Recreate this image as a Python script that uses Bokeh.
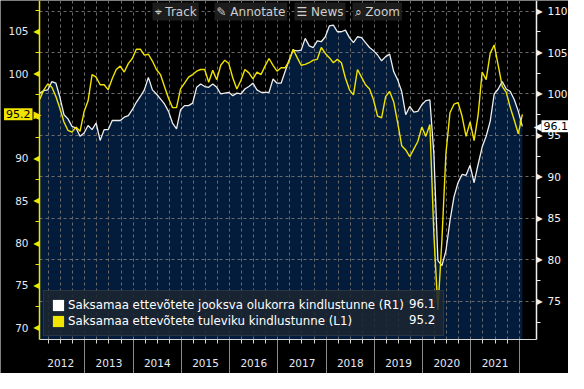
from bokeh.plotting import figure
from bokeh.models import (Range1d, LinearAxis, FixedTicker, Grid, Label, LabelSet,
                          ColumnDataSource, Legend, LegendItem)
from bokeh.core.properties import value
from bokeh.embed import file_html
from bokeh.resources import INLINE

# ---------------- data (monthly, Jan 2012 .. Jan 2022) ----------------
start_year = 2012
years = [2012, 2013, 2014, 2015, 2016, 2017, 2018, 2019, 2020, 2021]

# Saksamaa ettevotete jooksva olukorra kindlustunne (R1, white, right axis)
current_situation = [
    100.1, 100.4, 100.5, 101.5, 101.3, 99.6, 97.5, 97.0, 96.1, 95.9, 94.9, 95.3,
    96.2, 95.7, 96.5, 94.4, 95.7, 95.7, 96.8, 96.8, 96.8, 97.2, 97.4, 98.1,
    99.0, 99.7, 100.5, 102.0, 100.5, 100.0, 99.4, 98.8, 97.9, 96.5, 95.8, 98.1,
    98.6, 98.6, 98.9, 100.8, 101.2, 100.9, 100.8, 101.2, 100.8, 100.0, 100.1, 100.2,
    99.8, 100.1, 100.0, 100.6, 100.9, 101.3, 100.5, 100.2, 100.2, 100.2, 101.8, 101.3,
    101.3, 102.7, 104.1, 105.3, 105.2, 105.3, 106.7, 105.8, 105.6, 106.4, 106.3, 106.9,
    108.2, 108.3, 107.5, 107.5, 107.7, 106.8, 106.2, 106.9, 106.8, 106.2, 105.6, 105.2,
    104.7, 104.0, 104.5, 104.8, 102.7, 101.7, 100.3, 97.5, 98.5, 97.8, 97.9, 98.7,
    99.2, 99.3, 92.8, 79.9, 79.3, 81.1, 84.7, 87.6, 89.3, 90.3, 90.2, 91.4,
    89.3, 91.5, 93.6, 94.9, 96.7, 100.0, 100.6, 101.5, 100.6, 100.3, 99.3, 97.9,
    96.1,
]

# Saksamaa ettevotete tuleviku kindlustunne (L1, yellow, left axis)
expectations = [
    97.0, 98.1, 98.8, 98.4, 97.3, 95.9, 94.3, 93.3, 93.1, 93.7, 93.2, 95.5,
    96.8, 99.9, 99.6, 98.7, 98.7, 98.1, 99.4, 100.5, 100.9, 100.2, 101.2, 101.8,
    102.9, 102.9, 102.2, 102.3, 101.5, 100.5, 99.9, 98.5, 97.1, 96.0, 96.0, 98.2,
    98.9, 99.6, 99.9, 100.3, 100.5, 100.5, 99.0, 100.4, 99.3, 101.0, 101.6, 101.2,
    99.5, 98.2, 99.2, 100.5, 100.1, 99.4, 100.2, 99.9, 100.9, 101.8, 101.0, 100.3,
    100.7, 100.7, 101.5, 102.9, 101.9, 101.0, 101.1, 101.3, 101.6, 101.7, 103.1, 102.4,
    101.9, 101.3, 101.7, 101.3, 99.5, 98.1, 97.5, 100.5, 99.6, 98.7, 98.2, 96.9,
    95.0, 94.8, 97.3, 97.9, 96.7, 94.2, 91.5, 91.0, 90.2, 91.1, 92.0, 93.7,
    92.6, 94.0, 81.0, 72.1, 80.4, 90.6, 95.4, 96.4, 96.6, 95.0, 92.6, 94.3,
    92.1, 95.1, 100.2, 99.3, 102.4, 103.4, 101.0, 98.5, 97.8, 96.0, 94.5, 92.9,
    95.2,
]

label_current = "Saksamaa ettevõtete jooksva olukorra kindlustunne (R1)"
label_expect = "Saksamaa ettevõtete tuleviku kindlustunne (L1)"
last_current = current_situation[-1]
last_expect = expectations[-1]

right_ticks = [75, 80, 85, 90, 95, 100, 105, 110]
right_minor = [72.5, 77.5, 82.5, 87.5, 92.5, 97.5, 102.5, 107.5]
left_ticks = [70, 75, 80, 85, 90, 95, 100, 105]
left_minor = [72.5, 77.5, 82.5, 87.5, 92.5, 97.5, 102.5, 107.5]

toolbar_items = ["Track", "Annotate", "News", "Zoom"]
toolbar_icons = ["⌖", "✎", "☰", "⌕"]

# ---------------- geometry / styling ----------------
W, H = 568, 373
IL, IR, IT, IB = 39, 536, 0, 339          # inner plot box in figure pixels
X0, X1 = 2012.06, 2022.36                 # inner x extent (years)
R0, R1 = 70.40, 111.27                    # inner right-axis extent
L0, L1 = 68.61, 108.65                    # inner left-axis extent
sx = (IR - IL) / (X1 - X0)
sr = (IB - IT) / (R1 - R0)
sl = (IB - IT) / (L1 - L0)

NAVY = "#031c3b"
YEL = "#f0e400"
WHT = "#eeeeee"
GRID = "#6b6b6b"
TXT = "#e4e8f4"
FONT = "DejaVu Sans"
TICK_FS = "10.5px"
LEG_FS = "11.8px"

dates = [start_year + (i + 0.8) / 12.0 for i in range(len(current_situation))]
src = ColumnDataSource(dict(x=dates, cur=current_situation, exp=expectations))

p = figure(width=W, height=H, output_backend="svg", toolbar_location=None,
           x_range=Range1d(X0 - IL / sx, X1 + (W - IR) / sx),
           y_range=Range1d(R0 - (H - IB) / sr, R1 + IT / sr),
           x_axis_location=None, y_axis_location=None,
           background_fill_color="black", border_fill_color="black",
           outline_line_color=None,
           min_border_left=0, min_border_right=0, min_border_top=0,
           min_border_bottom=0)
p.extra_y_ranges = {"left": Range1d(L0 - (H - IB) / sl, L1 + IT / sl)}
p.grid.visible = False

# grids (dashed inside the plot box, solid year separators below it)
quarters = [y + q for y in years for q in (0.25, 0.5, 0.75, 1.0)]
p.add_layout(Grid(dimension=0, ticker=FixedTicker(ticks=quarters), cross_bounds=(R0, R1),
                  grid_line_color=GRID, grid_line_dash="3 3", grid_line_width=1))
p.add_layout(Grid(dimension=1, ticker=FixedTicker(ticks=right_ticks), cross_bounds=(X0, X1),
                  grid_line_color=GRID, grid_line_dash="3 3", grid_line_width=1))
p.add_layout(Grid(dimension=0, ticker=FixedTicker(ticks=[y + 1 for y in years]),
                  cross_bounds=(p.y_range.start, R0),
                  grid_line_color="#8a8a8a", grid_line_width=1))

# data
p.varea(x="x", y1=R0, y2="cur", source=src, fill_color=NAVY, level="image")
p.line("x", "cur", source=src, line_color=WHT, line_width=1.3)
p.line("x", "exp", source=src, line_color=YEL, line_width=1.4, y_range_name="left")

# axes (fixed to the plot box edges)
xa = LinearAxis(fixed_location=R0, bounds=(X0, X1),
                ticker=FixedTicker(ticks=[y + 0.5 for y in years],
                                   minor_ticks=[y + q for y in years for q in (0.25, 0.75)]))
xa.major_label_overrides = {y + 0.5: str(y) for y in years}
xa.axis_line_color = "#d8d8d8"
xa.major_tick_out = 4
xa.major_tick_in = 0
xa.major_tick_line_color = "#d8d8d8"
xa.minor_tick_out = 4
xa.minor_tick_in = 0
xa.minor_tick_line_color = "#d8d8d8"
xa.major_label_standoff = 15
xa.major_label_text_color = TXT
xa.major_label_text_font = FONT
xa.major_label_text_font_size = TICK_FS
p.add_layout(xa, "below")

la = LinearAxis(y_range_name="left", fixed_location=X0, bounds=(L0, L1),
                ticker=FixedTicker(ticks=left_ticks, minor_ticks=left_minor))
la.axis_line_color = YEL
la.axis_line_width = 1.5
la.major_tick_line_color = None
la.minor_tick_out = 4
la.minor_tick_in = 0
la.minor_tick_line_color = YEL
la.major_label_standoff = 5
la.major_label_text_color = TXT
la.major_label_text_font = FONT
la.major_label_text_font_size = TICK_FS
p.add_layout(la, "left")

ra = LinearAxis(fixed_location=X1, bounds=(R0, R1),
                ticker=FixedTicker(ticks=right_ticks, minor_ticks=right_minor))
ra.axis_line_color = WHT
ra.axis_line_width = 1.5
ra.major_tick_line_color = None
ra.minor_tick_out = 4
ra.minor_tick_in = 0
ra.minor_tick_line_color = WHT
ra.major_label_standoff = 5
ra.major_label_text_color = "#f4f4f4"
ra.major_label_text_font = FONT
ra.major_label_text_font_size = TICK_FS
p.add_layout(ra, "right")

# triangular tick markers
lt = ColumnDataSource(dict(y=left_ticks, x=[IL] * len(left_ticks), t=["◀"] * len(left_ticks)))
p.add_layout(LabelSet(x="x", y="y", text="t", source=lt, x_units="screen",
                      y_range_name="left", text_align="right", text_baseline="middle",
                      text_color=YEL, text_font=value(FONT), text_font_size="8px"))
rt = ColumnDataSource(dict(y=right_ticks, x=[IR] * len(right_ticks), t=["▶"] * len(right_ticks)))
p.add_layout(LabelSet(x="x", y="y", text="t", source=rt, x_units="screen",
                      text_align="left", text_baseline="middle",
                      text_color=WHT, text_font=value(FONT), text_font_size="8px"))

# last value tags
p.add_layout(Label(x=IL - 7, y=last_expect, x_units="screen", y_range_name="left",
                   text=f"{last_expect:.1f}", text_align="right", text_baseline="middle",
                   text_color="black", text_font=FONT, text_font_size="11px",
                   background_fill_color=YEL, padding=2))
p.add_layout(Label(x=IL - 6, y=last_expect, x_units="screen", y_range_name="left",
                   text="▶", text_align="left", text_baseline="middle",
                   text_color=YEL, text_font=FONT, text_font_size="10px"))
p.add_layout(Label(x=IR + 5, y=last_current, x_units="screen",
                   text=f"{last_current:.1f}", text_align="left", text_baseline="middle",
                   text_color="black", text_font=FONT, text_font_size="11px",
                   background_fill_color="white", padding=2))
p.add_layout(Label(x=IR + 5, y=last_current, x_units="screen",
                   text="◀", text_align="right", text_baseline="middle",
                   text_color="white", text_font=FONT, text_font_size="10px"))

# legend
nan = float("nan")
r1 = p.quad(left=[nan], right=[nan], top=[nan], bottom=[nan], fill_color="white", line_color=None)
r2 = p.quad(left=[nan], right=[nan], top=[nan], bottom=[nan], fill_color=YEL, line_color=None)
r0 = p.quad(left=[nan], right=[nan], top=[nan], bottom=[nan], fill_alpha=0, line_alpha=0)
legend = Legend(items=[LegendItem(label=label_current, renderers=[r1]),
                       LegendItem(label=label_expect, renderers=[r2])],
                location=(43, 37), margin=0, padding=7, spacing=2,
                glyph_width=14, glyph_height=14, label_height=14, label_width=368,
                label_standoff=3,
                background_fill_color="#1c2531", background_fill_alpha=0.88,
                border_line_color="#3c4550", border_line_width=1,
                label_text_color="white", label_text_font=FONT,
                label_text_font_size=LEG_FS)
p.add_layout(legend)
legend_values = Legend(items=[LegendItem(label=f"{last_current:.1f}", renderers=[r0]),
                              LegendItem(label=f"{last_expect:.1f}", renderers=[r0])],
                       location=(409, 46), margin=0, padding=7, spacing=2,
                       glyph_width=0, glyph_height=14, label_height=14, label_width=20,
                       label_standoff=0,
                       background_fill_alpha=0, border_line_color=None,
                       label_text_color="white", label_text_font=FONT,
                       label_text_font_size=LEG_FS)
p.add_layout(legend_values)

# top toolbar buttons
for bx, icon, name in zip([152, 214, 294, 352], toolbar_icons, toolbar_items):
    p.add_layout(Label(x=bx, y=H - 2, x_units="screen", y_units="screen",
                       text=f"{icon} {name}", text_align="left", text_baseline="top",
                       text_color="#cfcfcf", text_font=FONT, text_font_size="12px",
                       background_fill_color="#1e1e1e", background_fill_alpha=0.92,
                       padding=2))

open("out.html", "w").write(file_html(p, INLINE))
